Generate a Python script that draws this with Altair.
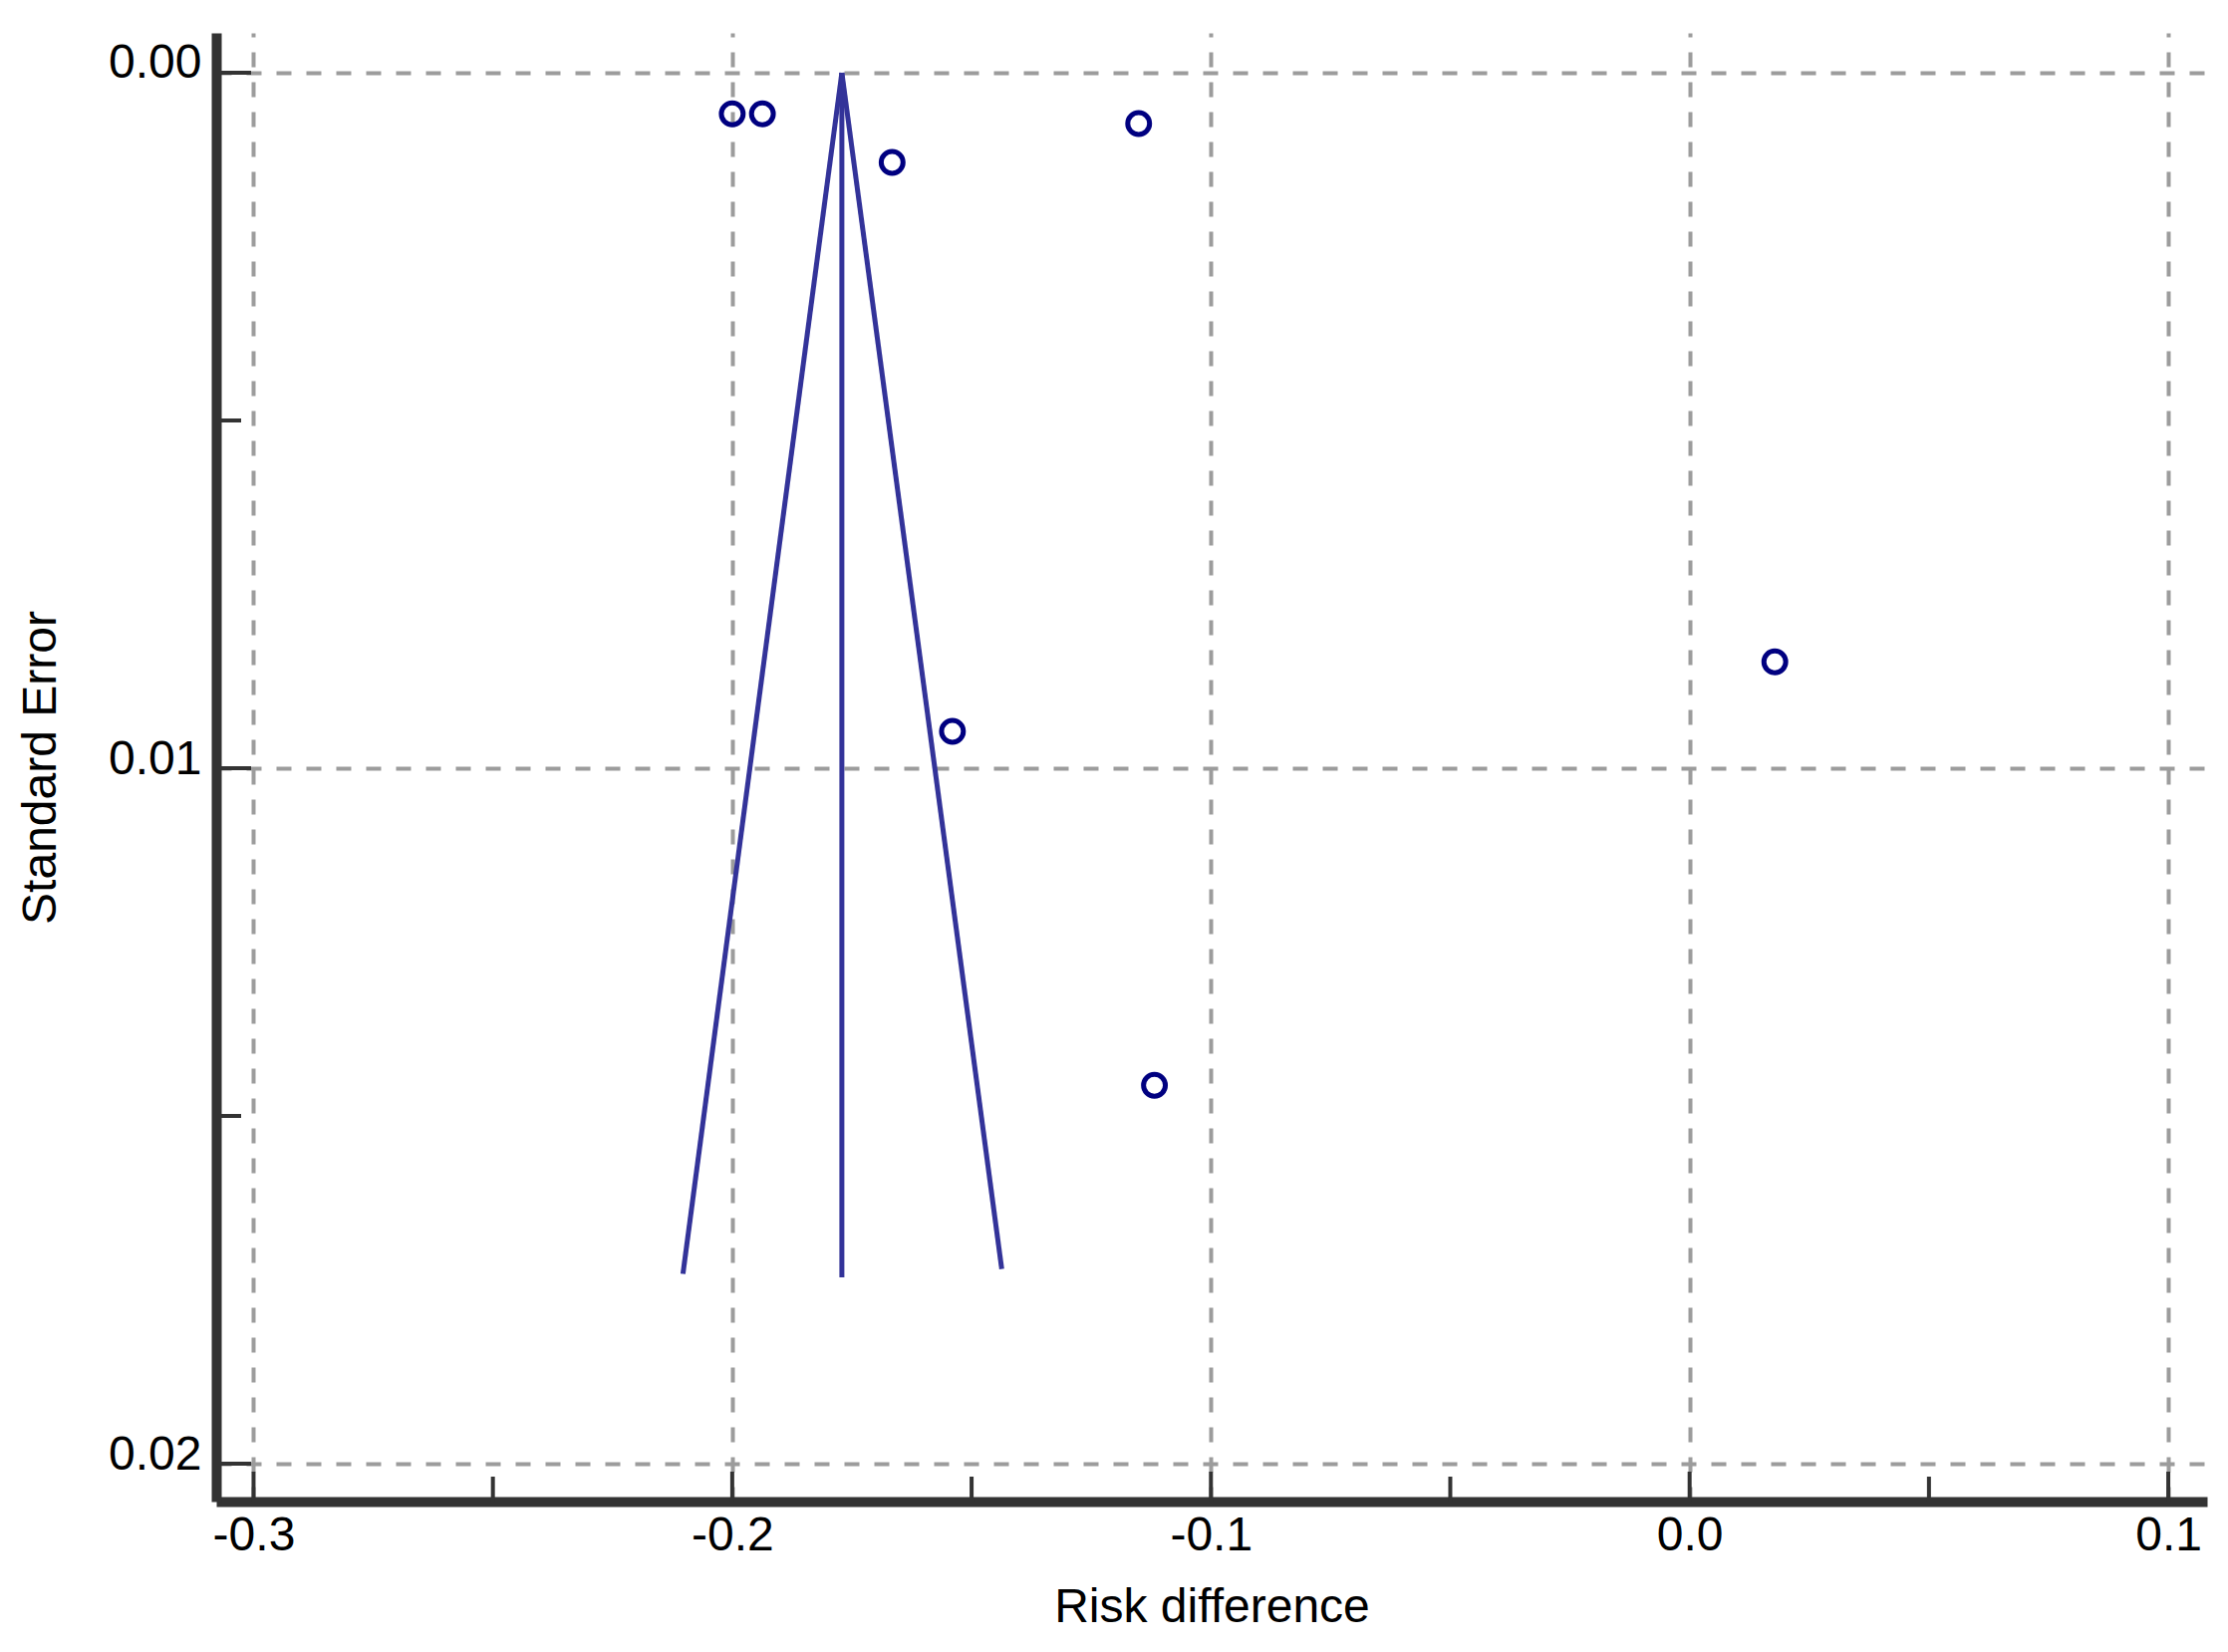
import altair as alt
import pandas as pd

# ---- data ----
pt_x = [-0.2000, -0.1937, -0.1666, -0.1151, -0.1540, 0.0178, -0.1118]
pt_y = [0.00059, 0.00059, 0.00129, 0.00073, 0.00947, 0.00847, 0.01456]

funnel_id = ["left", "left", "center", "center", "right", "right"]
funnel_order = [0, 1, 0, 1, 0, 1]
funnel_x = [-0.1771, -0.2103, -0.1771, -0.1771, -0.1771, -0.1437]
funnel_y = [0.0, 0.01727, 0.0, 0.01732, 0.0, 0.01720]

x_major = [-0.3, -0.2, -0.1, 0.0, 0.1]
x_minor = [-0.25, -0.15, -0.05, 0.05]
y_major = [0.0, 0.01, 0.02]
y_minor = [0.005, 0.015]

x_domain = [-0.3078, 0.1081]
y_domain = [-0.000573, 0.020544]

W, H = 1998, 1474
FONT = "Liberation Sans"
AXIS_COLOR = "#333333"

pts = pd.DataFrame({"x": pt_x, "y": pt_y})
fun = pd.DataFrame({"id": funnel_id, "o": funnel_order, "x": funnel_x, "y": funnel_y})

xs = alt.Scale(domain=x_domain, nice=False, zero=False)
ys = alt.Scale(domain=y_domain, nice=False, zero=False, reverse=True)

x_axis = alt.Axis(
    values=x_major, title="Risk difference", grid=True, gridDash=[15, 15],
    gridColor="#9c9c9c", gridWidth=4, domainColor=AXIS_COLOR, domainWidth=10,
    ticks=False, tickSize=0, labelPadding=10, labelFontSize=48, labelFont=FONT,
    labelColor="black", labelOverlap=False, labelFlush=False,
    labelExpr="replace(format(datum.value, '.1f'), '\u2212', '-')",
    titleFont=FONT, titleFontSize=48, titleFontWeight="normal", titleColor="black",
    titleY=106, titleBaseline="middle",
)
y_axis = alt.Axis(
    values=y_major, title="Standard Error", grid=True, gridDash=[15, 15],
    gridColor="#9c9c9c", gridWidth=4, domainColor=AXIS_COLOR, domainWidth=10,
    ticks=False, tickSize=0, labelPadding=15, labelFontSize=48, labelFont=FONT,
    labelColor="black", labelOverlap=False, labelFlush=False, labelOffset=-9,
    labelExpr="format(datum.value, '.2f')",
    titleFont=FONT, titleFontSize=48, titleFontWeight="normal", titleColor="black",
    titleX=-176, titleBaseline="middle", titleAngle=270,
)

X = lambda f: alt.X(f, scale=xs, axis=x_axis)
Y = lambda f: alt.Y(f, scale=ys, axis=y_axis)

points = alt.Chart(pts).mark_point(
    shape="circle", filled=False, color="#000080", size=480, strokeWidth=5, opacity=1
).encode(x=X("x:Q"), y=Y("y:Q"))

funnel = alt.Chart(fun).mark_line(color="#333399", strokeWidth=5).encode(
    x=X("x:Q"), y=Y("y:Q"), detail="id:N", order="o:Q",
)

def xticks(vals, length):
    d = pd.DataFrame({"x": vals})
    return alt.Chart(d).mark_rule(color=AXIS_COLOR, strokeWidth=4).encode(
        x=X("x:Q"), y=alt.value(H - 5 - length), y2=alt.value(H),
    )

def yticks(vals, length):
    d = pd.DataFrame({"y": vals})
    return alt.Chart(d).mark_rule(color=AXIS_COLOR, strokeWidth=4).encode(
        y=Y("y:Q"), x=alt.value(0), x2=alt.value(5 + length),
    )

chart = alt.layer(
    points, funnel,
    xticks(x_major, 25), xticks(x_minor, 20),
    yticks(y_major, 30), yticks(y_minor, 20),
).properties(
    width=W, height=H,
    autosize=alt.AutoSizeParams(type="none"),
    padding={"left": 209, "top": 25, "right": 10, "bottom": 130},
    background="white",
).configure_view(stroke=None)

chart.save("out.html", embed_options={"renderer": "svg", "actions": False})
